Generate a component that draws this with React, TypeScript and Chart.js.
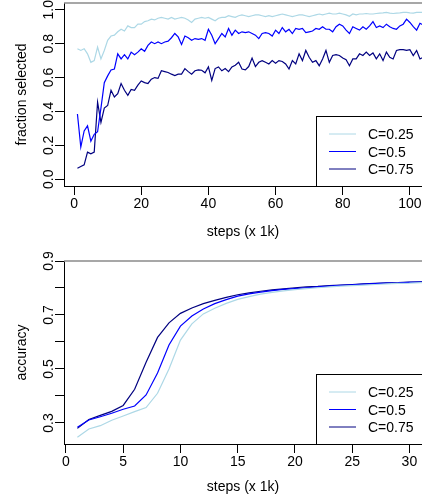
import React, { useEffect, useRef } from "react";
import { Chart, registerables } from "chart.js";

Chart.register(...registerables);

const FONT = "'Liberation Sans', Arial, sans-serif";

// ---------- top panel: fraction selected ----------
const selSteps: number[] = Array.from({ length: 104 }, (_, i) => i + 1);

const selC025: number[] = [
  0.77, 0.76, 0.77, 0.74, 0.69, 0.70, 0.78, 0.71, 0.76, 0.82,
  0.845, 0.85, 0.87, 0.885, 0.875, 0.905, 0.895, 0.895, 0.915, 0.915,
  0.93, 0.935, 0.945, 0.94, 0.95, 0.955, 0.95, 0.945, 0.955, 0.945,
  0.95, 0.955, 0.95, 0.94, 0.925, 0.945, 0.95, 0.955, 0.95, 0.955,
  0.945, 0.935, 0.95, 0.955, 0.955, 0.965, 0.96, 0.955, 0.965, 0.97,
  0.965, 0.96, 0.965, 0.97, 0.97, 0.965, 0.96, 0.965, 0.96, 0.965,
  0.97, 0.975, 0.97, 0.965, 0.96, 0.965, 0.97, 0.97, 0.965, 0.96,
  0.965, 0.97, 0.975, 0.97, 0.975, 0.98, 0.975, 0.975, 0.98, 0.975,
  0.97, 0.962, 0.975, 0.97, 0.975, 0.975, 0.978, 0.975, 0.975, 0.978,
  0.98, 0.982, 0.985, 0.98, 0.978, 0.98, 0.982, 0.985, 0.985, 0.982,
  0.98, 0.985, 0.985, 0.984,
];

const selC05: number[] = [
  0.385, 0.19, 0.285, 0.315, 0.225, 0.265, 0.28, 0.42, 0.57, 0.61,
  0.645, 0.65, 0.74, 0.71, 0.735, 0.71, 0.75, 0.735, 0.75, 0.77,
  0.755, 0.79, 0.81, 0.80, 0.81, 0.80, 0.81, 0.815, 0.835, 0.86,
  0.84, 0.795, 0.845, 0.835, 0.82, 0.83, 0.825, 0.83, 0.82, 0.885,
  0.85, 0.80, 0.83, 0.86, 0.84, 0.89, 0.85, 0.88, 0.86, 0.87,
  0.865, 0.87, 0.86, 0.85, 0.83, 0.86, 0.865, 0.86, 0.845, 0.88,
  0.86, 0.895, 0.87, 0.885, 0.86, 0.89, 0.885, 0.89, 0.865, 0.87,
  0.875, 0.89, 0.885, 0.90, 0.885, 0.885, 0.87, 0.90, 0.915, 0.905,
  0.88, 0.86, 0.90, 0.89, 0.88, 0.90, 0.885, 0.905, 0.93, 0.895,
  0.905, 0.895, 0.915, 0.90, 0.89, 0.885, 0.905, 0.915, 0.945, 0.925,
  0.90, 0.88, 0.92, 0.91,
];

const selC075: number[] = [
  0.065, 0.075, 0.085, 0.16, 0.15, 0.16, 0.455, 0.335, 0.42, 0.435,
  0.525, 0.485, 0.505, 0.565, 0.525, 0.495, 0.53, 0.525, 0.555, 0.58,
  0.57, 0.565, 0.59, 0.60, 0.595, 0.64, 0.635, 0.63, 0.62, 0.612,
  0.62, 0.62, 0.653, 0.635, 0.62, 0.64, 0.645, 0.643, 0.628, 0.663,
  0.583, 0.653, 0.663, 0.64, 0.653, 0.635, 0.663, 0.673, 0.69, 0.65,
  0.645, 0.665, 0.715, 0.665, 0.69, 0.70, 0.69, 0.68, 0.70, 0.685,
  0.70, 0.695, 0.68, 0.65, 0.70, 0.68, 0.74, 0.70, 0.76, 0.72,
  0.69, 0.70, 0.67, 0.71, 0.76, 0.69, 0.73, 0.735, 0.73, 0.715,
  0.705, 0.67, 0.71, 0.71, 0.74, 0.73, 0.75, 0.73, 0.745, 0.71,
  0.74, 0.70, 0.75, 0.72, 0.71, 0.76, 0.765, 0.765, 0.76, 0.765,
  0.73, 0.76, 0.71, 0.72,
];

const selXTicks: number[] = [0, 20, 40, 60, 80, 100];
const selXLabels: string[] = ["0", "20", "40", "60", "80", "100"];
const selYTicks: number[] = [0, 0.2, 0.4, 0.6, 0.8, 1.0];
const selYLabels: string[] = ["0.0", "0.2", "0.4", "0.6", "0.8", "1.0"];

// ---------- bottom panel: accuracy ----------
const accSteps: number[] = Array.from({ length: 32 }, (_, i) => i + 1);

const accC025: number[] = [
  0.247, 0.278, 0.29, 0.31, 0.326, 0.342, 0.357, 0.41, 0.50, 0.607,
  0.667, 0.704, 0.725, 0.743, 0.758, 0.768, 0.777, 0.784, 0.789, 0.794,
  0.798, 0.801, 0.804, 0.807, 0.809, 0.811, 0.813, 0.815, 0.817, 0.818,
  0.82, 0.821,
];
const accC05: number[] = [
  0.284, 0.311, 0.323, 0.336, 0.351, 0.363, 0.404, 0.485, 0.589, 0.659,
  0.696, 0.722, 0.742, 0.757, 0.77, 0.778, 0.785, 0.79, 0.795, 0.798,
  0.801, 0.804, 0.807, 0.81, 0.812, 0.814, 0.816, 0.818, 0.819, 0.821,
  0.822, 0.823,
];
const accC075: number[] = [
  0.28, 0.313, 0.328, 0.343, 0.365, 0.425, 0.525, 0.617, 0.671, 0.706,
  0.726, 0.742, 0.754, 0.765, 0.775, 0.782, 0.788, 0.793, 0.797, 0.801,
  0.804, 0.806, 0.809, 0.811, 0.813, 0.815, 0.817, 0.819, 0.82, 0.822,
  0.823, 0.824,
];

const accXTicks: number[] = [0, 5, 10, 15, 20, 25, 30];
const accXLabels: string[] = ["0", "5", "10", "15", "20", "25", "30"];
const accYTicks: number[] = [0.3, 0.4, 0.5, 0.6, 0.7, 0.8, 0.9];
const accYLabels: string[] = ["0.3", "", "0.5", "", "0.7", "", "0.9"];

const seriesNames: string[] = ["C=0.25", "C=0.5", "C=0.75"];
const seriesColors: string[] = ["#ADD8E6", "#0000FF", "#000080"];

// ---------- helpers ----------
function makeDatasets(steps: number[], series: number[][]) {
  return series.map((vals, k) => ({
    label: seriesNames[k],
    data: vals.map((v, i) => ({ x: steps[i], y: v })),
    borderColor: seriesColors[k],
    borderWidth: 1.2,
    pointRadius: 0,
    tension: 0,
    fill: false,
  }));
}

function rPlugin(yLabels: string[]) {
  return {
    id: "rstyle",
    afterDraw(chart: any) {
      const { ctx, chartArea } = chart;
      const { left, right, top, bottom } = chartArea;
      const ys = chart.scales.y;
      ctx.save();
      // grey top box edge
      ctx.strokeStyle = "#8a8a8a";
      ctx.lineWidth = 1.5;
      ctx.beginPath();
      ctx.moveTo(left, top);
      ctx.lineTo(right, top);
      ctx.stroke();
      // rotated y tick labels
      ctx.fillStyle = "#000";
      ctx.font = `14px ${FONT}`;
      ctx.textAlign = "center";
      ctx.textBaseline = "alphabetic";
      ys.ticks.forEach((t: any, i: number) => {
        const lab = yLabels[i];
        if (!lab) return;
        const py = ys.getPixelForValue(t.value);
        ctx.save();
        ctx.translate(left - 11, py);
        ctx.rotate(-Math.PI / 2);
        ctx.fillText(lab, 0, 0);
        ctx.restore();
      });
      // legend
      const b = Math.round(bottom);
      const bx = Math.round(left) + 252.5;
      const by = b - 70 + 0.5;
      const bw = right + 20 - bx;
      ctx.fillStyle = "#fff";
      ctx.fillRect(bx, by, bw, b + 0.5 - by);
      ctx.strokeStyle = "#000";
      ctx.lineWidth = 1;
      ctx.strokeRect(bx, by, bw, b + 0.5 - by);
      const rows = [b - 52, b - 34.5, b - 17];
      const lx0 = Math.round(left) + 265;
      const lx1 = Math.round(left) + 292;
      const tx = Math.round(left) + 304;
      ctx.textAlign = "left";
      rows.forEach((ry, k) => {
        ctx.strokeStyle = seriesColors[k];
        ctx.lineWidth = 1;
        ctx.beginPath();
        ctx.moveTo(lx0, ry);
        ctx.lineTo(lx1, ry);
        ctx.stroke();
        ctx.fillStyle = "#000";
        ctx.fillText(seriesNames[k], tx, Math.round(ry) + 5);
      });
      ctx.restore();
    },
  };
}

function makeConfig(opts: {
  steps: number[];
  series: number[][];
  xMin: number;
  xMax: number;
  yMin: number;
  yMax: number;
  xTicks: number[];
  xLabels: string[];
  yTicks: number[];
  yLabels: string[];
  yTitle: string;
  padTop: number;
  xAxisHeight: number;
  xTitlePad: number;
}) {
  const gridOpts = {
    display: true,
    drawOnChartArea: false,
    drawTicks: true,
    tickLength: 9,
    color: "#000",
    lineWidth: 1,
  };
  const borderOpts = { display: true, color: "#000", width: 1 };
  const titleFont = { family: FONT, size: 14 };
  return {
    type: "line" as const,
    data: { datasets: makeDatasets(opts.steps, opts.series) },
    options: {
      responsive: false,
      animation: false as const,
      devicePixelRatio: 1,
      layout: { padding: { top: opts.padTop, right: 0, bottom: 0, left: 0 } },
      plugins: { legend: { display: false }, tooltip: { enabled: false } },
      scales: {
        x: {
          type: "linear" as const,
          min: opts.xMin,
          max: opts.xMax,
          afterBuildTicks: (s: any) => {
            s.ticks = opts.xTicks.map((v) => ({ value: v }));
          },
          ticks: {
            autoSkip: false,
            maxRotation: 0,
            minRotation: 0,
            padding: 1,
            color: "#000",
            font: { family: FONT, size: 14 },
            callback: (_v: any, i: number) => opts.xLabels[i],
          },
          grid: gridOpts,
          border: borderOpts,
          title: {
            display: true,
            text: "steps (x 1k)",
            color: "#000",
            font: titleFont,
            padding: { top: 0, bottom: opts.xTitlePad },
          },
          afterFit: (s: any) => {
            s.height = opts.xAxisHeight;
            s.paddingLeft = 0;
            s.paddingRight = 0;
          },
        },
        y: {
          type: "linear" as const,
          min: opts.yMin,
          max: opts.yMax,
          afterBuildTicks: (s: any) => {
            s.ticks = opts.yTicks.map((v) => ({ value: v }));
          },
          ticks: { display: false },
          grid: gridOpts,
          border: borderOpts,
          title: {
            display: true,
            text: opts.yTitle,
            color: "#000",
            font: titleFont,
            padding: { top: 13.6, bottom: 0 },
          },
          afterFit: (s: any) => {
            s.width = 64;
            s.paddingTop = 0;
            s.paddingBottom = 0;
          },
        },
      },
    },
    plugins: [rPlugin(opts.yLabels)],
  };
}

export default function App() {
  const topRef = useRef<HTMLCanvasElement | null>(null);
  const botRef = useRef<HTMLCanvasElement | null>(null);

  useEffect(() => {
    const top = new Chart(
      topRef.current as HTMLCanvasElement,
      makeConfig({
        steps: selSteps,
        series: [selC025, selC05, selC075],
        xMin: -3,
        xMax: 103.6,
        yMin: -0.04,
        yMax: 1.04,
        xTicks: selXTicks,
        xLabels: selXLabels,
        yTicks: selYTicks,
        yLabels: selYLabels,
        yTitle: "fraction selected",
        padTop: 3,
        xAxisHeight: 64,
        xTitlePad: 9.6,
      }) as any
    );
    const bot = new Chart(
      botRef.current as HTMLCanvasElement,
      makeConfig({
        steps: accSteps,
        series: [accC025, accC05, accC075],
        xMin: -0.17,
        xMax: 31.1,
        yMin: 0.2222,
        yMax: 0.9,
        xTicks: accXTicks,
        xLabels: accXLabels,
        yTicks: accYTicks,
        yLabels: accYLabels,
        yTitle: "accuracy",
        padTop: 11,
        xAxisHeight: 56,
        xTitlePad: 4.6,
      }) as any
    );
    return () => {
      top.destroy();
      bot.destroy();
    };
  }, []);

  return (
    <div
      style={{
        position: "absolute",
        left: 0,
        top: 0,
        width: 422,
        height: 500,
        background: "#fff",
        overflow: "hidden",
      }}
    >
      <canvas
        ref={topRef}
        width={422}
        height={250}
        style={{ position: "absolute", left: 0, top: 0, width: 422, height: 250 }}
      />
      <canvas
        ref={botRef}
        width={422}
        height={250}
        style={{ position: "absolute", left: 0, top: 250, width: 422, height: 250 }}
      />
    </div>
  );
}
